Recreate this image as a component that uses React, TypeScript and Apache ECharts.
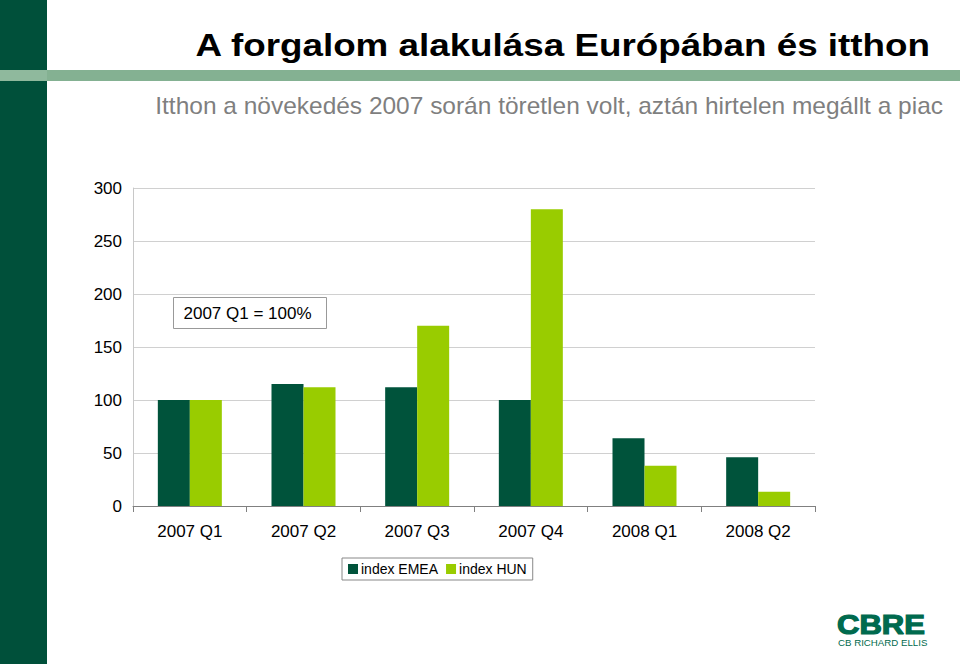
import React, { useEffect, useRef } from "react";
import * as echarts from "echarts";

const categories = ["2007 Q1", "2007 Q2", "2007 Q3", "2007 Q4", "2008 Q1", "2008 Q2"];
const emeaValues = [100, 115, 112, 100, 64, 46];
const hunValues = [100, 112, 170, 280, 38, 13.5];
const yTicks = { min: 0, max: 300, interval: 50 };
const titleText = "A forgalom alakulása Európában és itthon";
const subtitleText = "Itthon a növekedés 2007 során töretlen volt, aztán hirtelen megállt a piac";
const noteText = "2007 Q1 = 100%";
const seriesNames = ["index EMEA", "index HUN"];

const FONT = "Liberation Sans, Arial, sans-serif";

export default function App() {
  const ref = useRef<HTMLDivElement>(null);
  useEffect(() => {
    document.body.style.margin = "0";
    const chart = echarts.init(ref.current!, null, { renderer: "svg" });
    chart.setOption({
      animation: false,
      backgroundColor: "#ffffff",
      textStyle: { fontFamily: FONT },
      grid: { left: 133, right: 145, top: 188, bottom: 158, containLabel: false },
      legend: {
        left: 342,
        top: 558,
        data: seriesNames,
        icon: "rect",
        itemWidth: 10,
        itemHeight: 10,
        itemGap: 8,
        padding: [4, 6],
        borderColor: "#888",
        borderWidth: 1,
        textStyle: { fontSize: 14, color: "#000", fontFamily: FONT, padding: [0, 0, 0, -2] },
      },
      xAxis: {
        type: "category",
        data: categories,
        axisLine: { lineStyle: { color: "#808080", width: 1 } },
        axisTick: { show: true, length: 6, lineStyle: { color: "#808080" } },
        axisLabel: { fontSize: 17, color: "#000", margin: 17, fontFamily: FONT },
      },
      yAxis: {
        type: "value",
        min: yTicks.min,
        max: yTicks.max,
        interval: yTicks.interval,
        axisLine: { show: true, lineStyle: { color: "#c8c8c8" } },
        axisTick: { show: false },
        splitLine: { lineStyle: { color: "#d0d0d0" } },
        axisLabel: { fontSize: 17, color: "#000", margin: 11, fontFamily: FONT },
      },
      series: [
        {
          name: seriesNames[0],
          type: "bar",
          data: emeaValues,
          barWidth: 32,
          barGap: "0%",
          itemStyle: { color: "#00533b" },
        },
        {
          name: seriesNames[1],
          type: "bar",
          data: hunValues,
          barWidth: 32,
          barGap: "0%",
          itemStyle: { color: "#99cc00" },
        },
      ],
      graphic: [
        { type: "rect", shape: { x: 0, y: 0, width: 47, height: 664 }, style: { fill: "#00503a" }, z: 10 },
        { type: "rect", shape: { x: 0, y: 70, width: 960, height: 11 }, style: { fill: "#84b192" }, z: 11 },
        { type: "rect", shape: { x: 0, y: 70, width: 47, height: 11 }, style: { fill: "#8fb99d" }, z: 12 },
        {
          type: "text",
          x: 930,
          y: 29,
          scaleX: 1.15,
          style: { text: titleText, fontSize: 32, fontWeight: "bold", fill: "#000", fontFamily: FONT, align: "right", verticalAlign: "top" },
          z: 12,
        },
        {
          type: "text",
          x: 943,
          y: 94,
          scaleX: 1.02,
          style: { text: subtitleText, fontSize: 24, fill: "#7f7f7f", fontFamily: FONT, align: "right", verticalAlign: "top" },
          z: 12,
        },
        {
          type: "group",
          left: 173,
          top: 297,
          z: 12,
          children: [
            { type: "rect", shape: { x: 0, y: 0, width: 153, height: 31 }, style: { fill: "#fff", stroke: "#999", lineWidth: 1 } },
            { type: "text", x: 10, y: 16, style: { text: noteText, fontSize: 17, fill: "#000", fontFamily: FONT, verticalAlign: "middle" } },
          ],
        },
        {
          type: "text",
          x: 837,
          y: 611,
          scaleX: 1.15,
          style: { text: "CBRE", fontSize: 27, fontWeight: 900, fill: "#006a4e", stroke: "#006a4e", lineWidth: 1.2, fontFamily: FONT, verticalAlign: "top" },
          z: 12,
        },
        {
          type: "text",
          x: 838,
          y: 639,
          scaleX: 1.14,
          style: { text: "CB RICHARD ELLIS", fontSize: 8.5, fill: "#006a4e", fontFamily: FONT, verticalAlign: "top" },
          z: 12,
        },
      ],
    });
    return () => chart.dispose();
  }, []);
  return <div ref={ref} style={{ width: 960, height: 664 }} />;
}
